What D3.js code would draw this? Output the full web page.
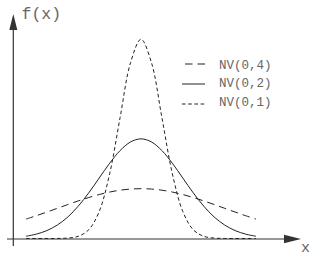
<!DOCTYPE html>
<html>
<head>
<meta charset="utf-8">
<script src="https://cdn.jsdelivr.net/npm/d3@7"></script>
<style>
  body { margin: 0; background: white; }
</style>
</head>
<body>
<div id="container"></div>
<script>
let w = 312;
let h = 257;

// DATA
let xValues = [-5.5, -5, -4.5, -4, -3.5, -3, -2.5, -2, -1.5, -1, -0.5, 0, 0.5, 1, 1.5, 2, 2.5, 3, 3.5, 4, 4.5, 5, 5.5];
let nv4 = [0.0388, 0.0457, 0.0530, 0.0605, 0.0680, 0.0753, 0.0820, 0.0880, 0.0930, 0.0967, 0.0990, 0.0997, 0.0990, 0.0967, 0.0930, 0.0880, 0.0820, 0.0753, 0.0680, 0.0605, 0.0530, 0.0457, 0.0388];
let nv2 = [0.0045, 0.0088, 0.0159, 0.0270, 0.0431, 0.0648, 0.0913, 0.1210, 0.1506, 0.1760, 0.1933, 0.1995, 0.1933, 0.1760, 0.1506, 0.1210, 0.0913, 0.0648, 0.0431, 0.0270, 0.0159, 0.0088, 0.0045];
let nv1 = [0, 0, 0, 0.0001, 0.0009, 0.0044, 0.0175, 0.0540, 0.1295, 0.2420, 0.3521, 0.3989, 0.3521, 0.2420, 0.1295, 0.0540, 0.0175, 0.0044, 0.0009, 0.0001, 0, 0, 0];
let seriesNames = ["NV(0,4)", "NV(0,2)", "NV(0,1)"];
let yLabel = "f(x)";
let xLabel = "x";

// styles
let dashes = ["7.5,5", null, "3.6,2.6"];
let ink = "#222";
let axisInk = "#333";
let textInk = "#666";
let font = "'Liberation Mono', 'Courier New', monospace";

let viz = d3.select("#container").append("svg")
    .attr("width", w)
    .attr("height", h)
    .style("display", "block")
    .style("background-color", "white")
;

// SCALES
let xScale = d3.scaleLinear().domain([-5.5, 5.5]).range([26, 256]);
let yScale = d3.scaleLinear().domain([0, 0.4]).range([238.5, 38.7]);

// AXES (arrows)
let axisX = 13.3;
let axisY = 239;

viz.append("line")
    .attr("x1", axisX).attr("y1", 246)
    .attr("x2", axisX).attr("y2", 28)
    .attr("stroke", axisInk)
    .attr("stroke-width", 1.2)
;
viz.append("path")
    .attr("d", "M" + axisX + ",14 L" + (axisX - 4) + ",30 L" + (axisX + 4) + ",30 Z")
    .attr("fill", axisInk)
;
viz.append("line")
    .attr("x1", 7).attr("y1", axisY)
    .attr("x2", 286).attr("y2", axisY)
    .attr("stroke", axisInk)
    .attr("stroke-width", 1.2)
;
viz.append("path")
    .attr("d", "M301," + axisY + " L284," + (axisY - 4.2) + " L284," + (axisY + 4.2) + " Z")
    .attr("fill", axisInk)
;

viz.append("text")
    .attr("x", 21.5)
    .attr("y", 19)
    .attr("font-family", font)
    .attr("font-size", 16.5)
    .attr("fill", textInk)
    .text(yLabel)
;
viz.append("text")
    .attr("x", 305.5)
    .attr("y", 252)
    .attr("text-anchor", "middle")
    .attr("font-family", font)
    .attr("font-size", 15)
    .attr("fill", textInk)
    .text(xLabel)
;

// CURVES
let series = [nv4, nv2, nv1];
let lineMaker = d3.line()
    .x(function(d, i){ return xScale(xValues[i]); })
    .y(function(d){ return yScale(d); })
    .curve(d3.curveCatmullRom)
;

viz.selectAll(".curve").data(series).enter()
  .append("path")
    .attr("class", "curve")
    .attr("d", lineMaker)
    .attr("fill", "none")
    .attr("stroke", ink)
    .attr("stroke-width", 1)
    .attr("stroke-dasharray", function(d, i){ return dashes[i]; })
;

// LEGEND
let legend = viz.selectAll(".legend").data(seriesNames).enter()
  .append("g")
    .attr("class", "legend")
;
legend.append("line")
    .attr("x1", function(d, i){ return i == 0 ? 185 : 182; })
    .attr("x2", 205)
    .attr("y1", function(d, i){ return 64 + i * 20; })
    .attr("y2", function(d, i){ return 64 + i * 20; })
    .attr("stroke", ink)
    .attr("stroke-width", 1)
    .attr("stroke-dasharray", function(d, i){ return dashes[i]; })
;
legend.append("text")
    .attr("x", 219)
    .attr("y", function(d, i){ return 68.5 + i * 18.8; })
    .attr("font-family", font)
    .attr("font-size", 12.5)
    .attr("fill", textInk)
    .text(function(d){ return d; })
;
</script>
</body>
</html>
